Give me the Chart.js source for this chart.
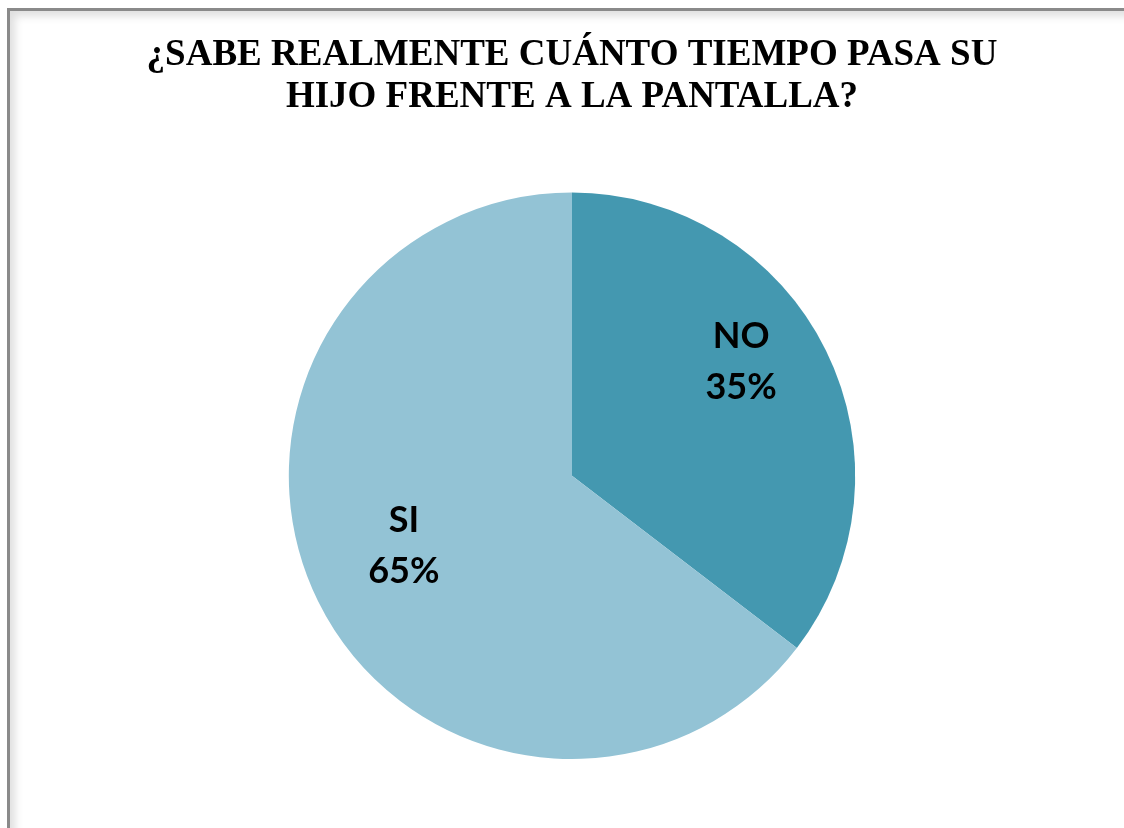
<!DOCTYPE html>
<html>
<head>
<meta charset="utf-8">
<script src="https://cdn.jsdelivr.net/npm/chart.js@4/dist/chart.umd.min.js"></script>
<style>
  html, body { margin: 0; padding: 0; background: #fff; overflow: hidden; }
  #wrap { position: relative; width: 1124px; height: 828px; }
  #c { position: absolute; left: 0; top: 0; }
  #frame {
    position: absolute; left: 7px; top: 8px; width: 1200px; height: 900px;
    border: 3px solid #8a8a8a; box-sizing: border-box;
    box-shadow: inset 5px 5px 9px rgba(0,0,0,0.13);
    pointer-events: none;
  }
</style>
</head>
<body>
<div id="wrap">
  <canvas id="c" width="1124" height="828"></canvas>
  <div id="frame"></div>
</div>
<script>
const titleLines = ['¿SABE REALMENTE CUÁNTO TIEMPO PASA SU', 'HIJO FRENTE A LA PANTALLA?'];
const categories = ['NO', 'SI'];
const percentages = [35.4, 64.6];
const sliceColors = ['#4498B0', '#93C3D5'];

const labelPlugin = {
  id: 'sliceLabels',
  afterDatasetsDraw(chart, args, opts) {
    const ctx = chart.ctx;
    const meta = chart.getDatasetMeta(0);
    const total = percentages.reduce((a, b) => a + b, 0);
    ctx.save();
    ctx.fillStyle = '#000';
    ctx.font = opts.font;
    ctx.textAlign = 'center';
    ctx.textBaseline = 'middle';
    meta.data.forEach((arc, i) => {
      const p = opts.placement[i];
      const mid = (arc.startAngle + arc.endAngle) / 2 + p.da * Math.PI / 180;
      const r = arc.outerRadius * p.r;
      const x = arc.x + Math.cos(mid) * r;
      const y = arc.y + Math.sin(mid) * r;
      const pct = Math.round(percentages[i] / total * 100) + '%';
      ctx.fillText(categories[i], x, y - opts.gap / 2);
      ctx.fillText(pct, x, y + opts.gap / 2);
    });
    ctx.restore();
  }
};

new Chart(document.getElementById('c'), {
  type: 'pie',
  data: {
    labels: categories,
    datasets: [{
      data: percentages,
      backgroundColor: sliceColors,
      borderWidth: 0
    }]
  },
  options: {
    responsive: false,
    animation: false,
    layout: { padding: { top: 13, bottom: 69, left: 20, right: 0 } },
    plugins: {
      legend: { display: false },
      tooltip: { enabled: false },
      title: {
        display: true,
        text: titleLines,
        color: '#000',
        font: { family: '"Liberation Serif", "Times New Roman", serif', size: 37, weight: 'bold', lineHeight: 1.13 },
        padding: { top: 22, bottom: 74 }
      },
      sliceLabels: {
        font: 'bold 36px Lato, "Open Sans", sans-serif',
        gap: 51,
        placement: [{ r: 0.72, da: -7.7 }, { r: 0.643, da: 3.7 }]
      }
    }
  },
  plugins: [labelPlugin]
});
</script>
</body>
</html>
